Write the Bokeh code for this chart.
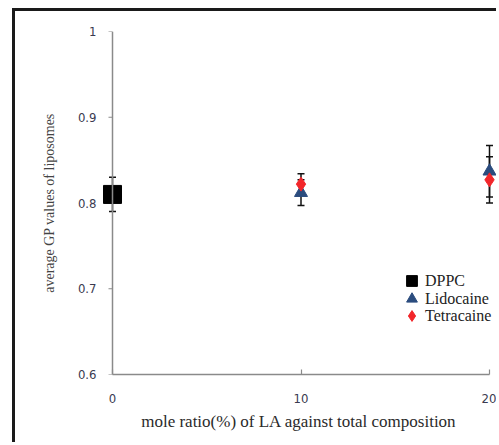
from bokeh.plotting import figure
from bokeh.models import (ColumnDataSource, Whisker, FixedTicker, Legend, LegendItem,
                          TeeHead, Span)
from bokeh.embed import file_html
from bokeh.resources import INLINE

# data
dppc_x = [0]
dppc_y = [0.810]
dppc_err = [0.020]

lido_x = [10, 20]
lido_y = [0.812, 0.837]
lido_err = [0.015, 0.030]

tetra_x = [10, 20]
tetra_y = [0.822, 0.827]
tetra_err = [0.012, 0.027]

series_names = ["DPPC", "Lidocaine", "Tetracaine"]
y_ticks = [0.6, 0.7, 0.8, 0.9, 1.0]
y_tick_labels = ["0.6", "0.7", "0.8", "0.9", "1"]
x_ticks = [0, 10, 20]
x_title = "mole ratio(%) of  LA against total composition"
y_title = "average GP values of liposomes"

SERIF = "'Liberation Serif', 'Times New Roman', serif"
NARROW = "'Liberation Sans Narrow', 'DejaVu Sans Condensed', 'Liberation Sans', sans-serif"
AXIS_GRAY = "#8a8a8a"

px_per_unit = 18.85
pad = 10 / px_per_unit
p = figure(width=484, height=434, x_range=(0 - pad, 20 + pad), y_range=(0.6, 1.0),
           output_backend="svg", toolbar_location=None,
           min_border_left=87, min_border_top=20, min_border_right=0, min_border_bottom=71)
p.styles = {"border-left": "3px solid #1a1a1a", "border-top": "3px solid #1a1a1a",
            "margin-left": "12px", "margin-top": "8px"}
p.grid.visible = False
p.outline_line_color = None
p.background_fill_color = "white"
p.border_fill_color = "white"

# y axis: labels at frame edge, line + ticks drawn at x = 0
p.yaxis.ticker = FixedTicker(ticks=y_ticks)
p.yaxis.major_label_overrides = {t: l for t, l in zip(y_ticks, y_tick_labels)}
p.yaxis.axis_line_color = None
p.yaxis.major_tick_line_color = None
p.yaxis.minor_tick_line_color = None
p.yaxis.major_label_standoff = 0
p.add_layout(Span(location=0, dimension="height", line_color=AXIS_GRAY, line_width=1.5))
tick_len = 4 / px_per_unit
p.segment(x0=[0 - tick_len] * len(y_ticks), y0=y_ticks, x1=[0] * len(y_ticks), y1=y_ticks,
          line_color=AXIS_GRAY, line_width=1.2)

p.xaxis.ticker = FixedTicker(ticks=x_ticks)
p.xaxis.bounds = (0, 20)
p.xaxis.axis_line_color = AXIS_GRAY
p.xaxis.axis_line_width = 1.5
p.xaxis.major_tick_line_color = AXIS_GRAY
p.xaxis.major_tick_line_width = 1.2
p.xaxis.minor_tick_line_color = None
p.xaxis.major_tick_in = 5
p.xaxis.major_tick_out = 0
p.xaxis.major_label_standoff = 19

for ax in (p.xaxis, p.yaxis):
    ax.major_label_text_font = NARROW
    ax.major_label_text_font_size = "13px"
    ax.major_label_text_color = "#3a3a50"
    ax.axis_label_text_font = SERIF
    ax.axis_label_text_font_style = "normal"
    ax.axis_label_text_color = "#2a2a2a"

p.xaxis.axis_label = x_title
p.xaxis.axis_label_text_font_size = "17px"
p.xaxis.axis_label_standoff = 6
p.yaxis.axis_label = y_title
p.yaxis.axis_label_text_font_size = "14px"
p.yaxis.axis_label_text_color = "#444444"
p.yaxis.axis_label_standoff = 18

# error bars
def add_err(xs, ys, errs):
    src = ColumnDataSource(dict(x=xs, lo=[y - e for y, e in zip(ys, errs)],
                                hi=[y + e for y, e in zip(ys, errs)]))
    w = Whisker(source=src, base="x", lower="lo", upper="hi",
                line_color="#111111", line_width=1.5,
                upper_head=TeeHead(size=7, line_color="#111111", line_width=1.5),
                lower_head=TeeHead(size=7, line_color="#111111", line_width=1.5))
    w.level = "underlay"
    p.add_layout(w)

add_err(dppc_x, dppc_y, dppc_err)
add_err(lido_x, lido_y, lido_err)
add_err(tetra_x, tetra_y, tetra_err)

r_d = p.scatter(dppc_x, dppc_y, marker="square", size=18, color="black")
r_l = p.scatter(lido_x, lido_y, marker="triangle", size=13, color="#2B4C7E")
r_t = p.scatter(tetra_x, tetra_y, marker="diamond", size=14, color="#F2262A")

# legend: one single-item legend per series, stacked, so glyphs can be larger
legend_rows_y = [80, 62, 45]
for name, rend, ly in zip(series_names, [r_d, r_l, r_t], legend_rows_y):
    lg = Legend(items=[LegendItem(label=name, renderers=[rend])], location=(296, ly))
    lg.label_text_font = SERIF
    lg.label_text_font_size = "16px"
    lg.label_text_color = "#222222"
    lg.background_fill_alpha = 0
    lg.border_line_color = None
    lg.padding = 2
    lg.margin = 0
    lg.spacing = 0
    lg.glyph_width = 27
    lg.glyph_height = 27
    lg.label_height = 16
    lg.label_standoff = 0
    p.add_layout(lg)

open("out.html", "w").write(file_html(p, INLINE))
